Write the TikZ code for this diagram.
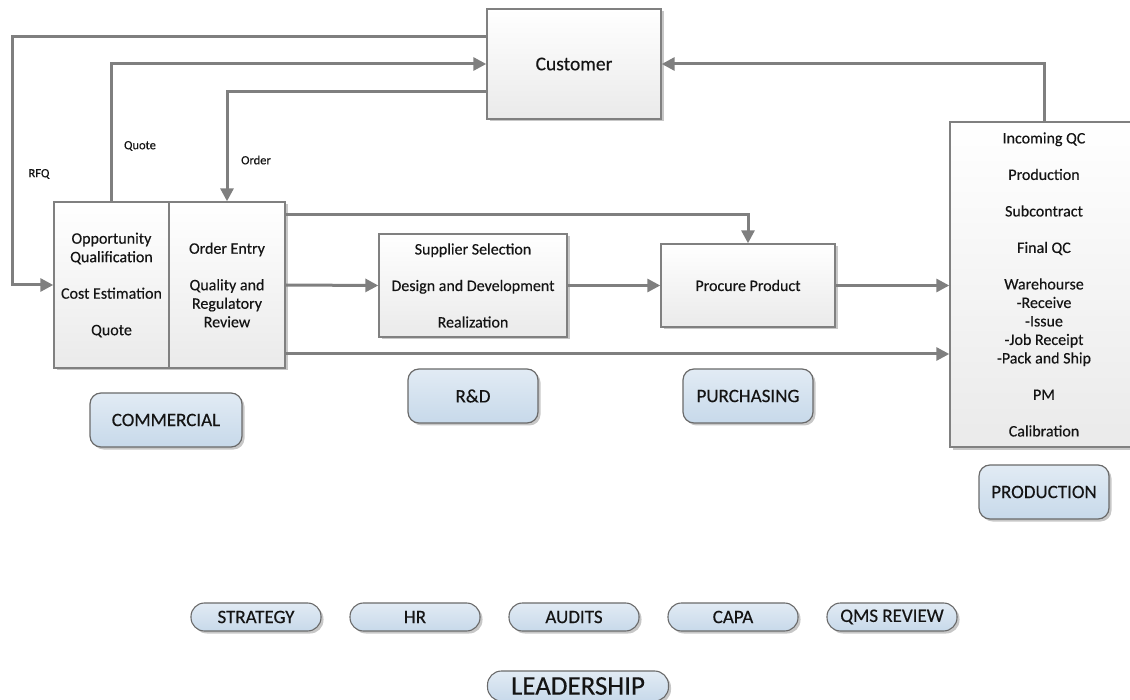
\documentclass[tikz,border=0pt]{standalone}
\usepackage{fontspec}
\setmainfont{Carlito}[FakeBold=0.3]
\usetikzlibrary{arrows.meta,shadows}
\definecolor{linegray}{HTML}{7F7F7F}
\definecolor{boxborder}{HTML}{808080}
\definecolor{boxbot}{HTML}{EAEAEA}
\definecolor{lanetop}{HTML}{E2EBF4}
\definecolor{lanebot}{HTML}{C7D9EA}
\definecolor{laneborder}{HTML}{6A6A6A}
\definecolor{txt}{HTML}{141414}
\begin{document}
\begin{tikzpicture}[x=1pt,y=-1pt,
  every node/.style={text=txt},
  softshadow/.style={drop shadow={shadow xshift=2.5pt,shadow yshift=-2.5pt,opacity=0.22,fill=black}},
  box/.style={draw=boxborder,line width=1.4pt,top color=white,bottom color=boxbot,softshadow,
    inner sep=0pt,align=center,font=\fontsize{16}{18.5}\selectfont},
  lane/.style={draw=laneborder,line width=1.2pt,rounded corners=11pt,top color=lanetop,bottom color=lanebot,
    softshadow,inner sep=0pt,minimum width=130pt,minimum height=54pt,font=\fontsize{19}{22}\selectfont},
  pill/.style={draw=laneborder,line width=1.1pt,rounded corners=13.5pt,top color=lanetop,bottom color=lanebot,
    softshadow,inner sep=0pt,minimum width=130pt,minimum height=28pt,font=\fontsize{19}{22}\selectfont},
  conn/.style={draw=linegray,line width=3pt,-{Triangle[length=13pt,width=13pt]}},
  flowlabel/.style={font=\fontsize{12.5}{14}\selectfont,inner sep=0pt}
]
\useasboundingbox (0,0) rectangle (1130,700);

% boxes
\node[box,minimum width=174pt,minimum height=110pt,font=\fontsize{19.5}{22}\selectfont] (cust) at (574,64) {Customer};
\node[box,minimum width=115pt,minimum height=166pt] (commL) at (111.5,285)
  {Opportunity\\Qualification\\[18pt]Cost Estimation\\[18pt]Quote};
\node[box,minimum width=116pt,minimum height=166pt] (commR) at (227,285)
  {Order Entry\\[18pt]Quality and\\Regulatory\\Review};
\node[box,minimum width=188pt,minimum height=103pt] (rd) at (473,285.5)
  {Supplier Selection\\[18pt]Design and Development\\[18pt]Realization};
\node[box,minimum width=174pt,minimum height=83pt] (proc) at (748,285.5) {Procure Product};
\node[box,minimum width=188pt,minimum height=325pt] (prod) at (1044,284.5)
  {Incoming QC\\[18pt]Production\\[18pt]Subcontract\\[18pt]Final QC\\[18pt]Warehourse\\-Receive\\-Issue\\-Job Receipt\\-Pack and Ship\\[18pt]PM\\[18pt]Calibration};

% connectors
\draw[conn] (cust.west |- 0,37) -| (12,285) -- (commL.west);
\draw[conn] (commL.north) |- (cust.west);
\draw[conn] (cust.west |- 0,92) -| (commR.north);
\draw[conn] (commR.east |- 0,215) -| (proc.north);
\draw[conn] (commR.east) -- (rd.west);
\draw[conn] (rd.east) -- (proc.west);
\draw[conn] (proc.east) -- (prod.west |- proc.east);
\draw[conn] (commR.east |- 0,354) -- (prod.west |- 0,354);
\draw[conn] (prod.north) |- (cust.east);

\node[flowlabel] (lrfq) at (39,174) {RFQ};
\node[flowlabel] (lquote) at (140,146) {Quote};
\node[flowlabel] (lorder) at (256,160) {Order};

% lanes
\node[lane,minimum width=152pt] (lcomm) at (166,420) {COMMERCIAL};
\node[lane] (lrd) at (473,396) {R\&D};
\node[lane] (lpur) at (748,396) {PURCHASING};
\node[lane] (lprod) at (1044,492) {PRODUCTION};

% leadership
\node[pill] (pstrat) at (256,617) {STRATEGY};
\node[pill] (phr) at (415,617) {HR};
\node[pill] (paud) at (574,617) {AUDITS};
\node[pill] (pcapa) at (733,617) {CAPA};
\node[pill] (pqms) at (892,617) {QMS REVIEW};
\node[pill,minimum width=181pt,minimum height=30pt,rounded corners=14pt,font=\fontsize{27}{29}\selectfont] (plead) at (578,686) {LEADERSHIP};
\end{tikzpicture}
\end{document}
